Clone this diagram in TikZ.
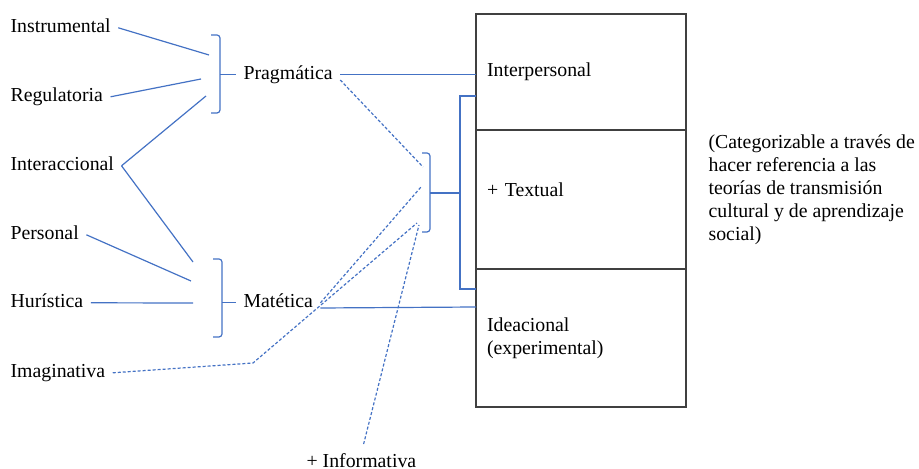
\documentclass[tikz,border=0pt]{standalone}
\usepackage{fontspec}
\setmainfont{Liberation Serif}
\usepackage{xcolor}
\usetikzlibrary{positioning}
\definecolor{lineblue}{RGB}{68,114,196}

\begin{document}
\begin{tikzpicture}[x=0.5pt, y=-0.5pt, line width=0.6pt,
                    font=\fontsize{9.9}{11.5}\selectfont]
\tikzstyle{func}=[inner sep=0pt, inner xsep=3.5pt, text height=6.8pt,
                    text depth=1.6pt, anchor=base west]
\tikzstyle{sect}=[draw=black!75, rectangle, text width=94pt, inner xsep=5.5pt,
                    inner ysep=0pt, align=left, outer sep=0pt]
\tikzstyle{link}=[draw=lineblue]
\tikzstyle{dotlink}=[draw=lineblue, dash pattern=on 1.5pt off 1pt]
  \useasboundingbox (0,0) rectangle (919,469);
  \node[func] (Ins)  at (3,33)    {Instrumental};
  \node[func] (Reg)  at (3,102)   {Regulatoria};
  \node[func] (Int)  at (3,171)   {Interaccional};
  \node[func] (Per)  at (3,240)   {Personal};
  \node[func] (Hur)  at (3,308)   {Hurística};
  \node[func] (Img)  at (3,378)   {Imaginativa};
  \node[func] (Prag) at (236,80)  {Pragmática};
  \node[func] (Mat)  at (236,308) {Matética};
  \node[func, text depth=0pt] (Inf) at (299,467) {+ Informativa};
  \node[sect, minimum height=58pt, anchor=north west] (Inter) at (476,14) {Interpersonal};
  \node[sect, minimum height=69.5pt, below=0pt of Inter] (Text) {\raisebox{10pt}{+ Textual}};
  \node[sect, minimum height=69pt, below=0pt of Text] (Idea) {Ideacional\\(experimental)};
  \node[anchor=north west, inner sep=0pt, align=left] (note) at (708,134)
       {(Categorizable a través de\\hacer referencia a las\\teorías de transmisión\\cultural y de aprendizaje\\social)};
  \coordinate (pTop)   at (220,35);
  \coordinate (mTop)   at (222,259);
  \coordinate (pI)     at (209,55);
  \coordinate (pR)     at (201,79);
  \coordinate (pX)     at (206,96);
  \coordinate (mX)     at (193,262);
  \coordinate (mP)     at (191,281);
  \coordinate (mH)     at (193,303);
  \coordinate (cP)     at (423,167);
  \coordinate (cM)     at (421,187);
  \coordinate (cG)     at (417,223);
  \coordinate (cF)     at (419,225);
  \coordinate (iBend)  at (253,363);
  \coordinate (ideaIn) at (476,307);
  \draw[link, rounded corners=1.5pt] (211,35) -- (pTop) -- (220,113) -- (211,113);
  \draw[link, rounded corners=1.5pt] (213,259) -- (mTop) -- (222,337) -- (213,337);
  \draw[link, rounded corners=1.5pt] (422,153) -- (430,153) -- (430,232) -- (422,232);
  \draw[link] (476,96) -- (460,96) -- (460,289) -- (476,289);
  \draw[link] (Prag.west -| pTop) -- (Prag.west);
  \draw[link] (Mat.west -| mTop) -- (Mat.west);
  \draw[link] (430,193) -- (460,193);
  \path[link] (Ins.east) edge (pI)
              (Reg.east) edge (pR)
              (Int.east) edge (pX)
              (Int.east) edge (mX)
              (Per.east) edge (mP)
              (Hur.east) edge (mH);
  \draw[link] (Prag.east) -- (Prag.east -| Inter.west);
  \path[link] (Mat.base east) edge (ideaIn);
  \path[dotlink] (Prag.base east) edge (cP)
                 (Mat.east) edge (cM);
  \draw[dotlink] (Img.east) -- (iBend) -- (cG);
  \draw[dotlink, shorten <=4.5pt] (Inf.north) -- (cF);
\end{tikzpicture}
\end{document}
